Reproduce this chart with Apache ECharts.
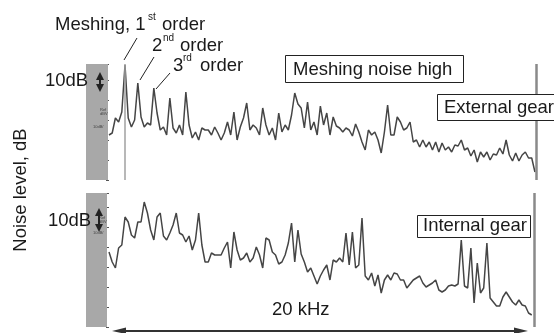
<!DOCTYPE html>
<html><head><meta charset="utf-8">
<script src="https://cdn.jsdelivr.net/npm/echarts@6/dist/echarts.min.js"></script>
<style>html,body{margin:0;padding:0;background:#fff}#c{width:554px;height:333px}</style>
</head><body><div id="c"></div>
<script>
// ---- data ----
const binKHz = 0.15;          // frequency spacing of spectrum bins
const spanKHz = 20;           // analysed band, 0 - 20 kHz
const meshFreqKHz = 0.75;     // 1st order meshing frequency

// External gear spectrum, relative level in dB
const externalLevel = [22.5,23.5,31,29,34,57.5,31,26.5,30,48.5,
31.5,26.5,28.5,27.5,46,33.5,25,26.5,22.5,41,
26,23.5,27.5,22.5,44,27.5,21,24,20,26,
25,25,22.5,26.5,23.5,20,23.5,29,22.5,34,
20,26.5,31,38.5,25,27.5,26,22.5,36,27.5,
22.5,26,20,33.5,24,27.5,25,32.5,43.5,38,
36,26,39,25,29,22.5,37,27.5,33.5,22.5,
31.5,27,26,24,26,25,22,28,24,19,
15,25,22.5,24,20,13.5,24,37.5,22.5,22.5,
31.5,29,25,26,29,19,20,16.5,20,16.5,
19,15,19,14,18.5,15,16.5,14,17.5,17,
20,15,16,12,15,9,14,11.5,14,10,
13,12.5,16,13,20,12.5,9.5,13.5,9.5,12.5,
14,11,11,4];

// Internal gear spectrum, relative level in dB
const internalLevel = [37.5,32.5,29.5,39.5,41,55,52.5,46,44.5,52.5,
52.5,62.5,57,48.5,43.5,55,57,45.5,43.5,47,
51,57,47,46,42.5,45.5,38.5,43.5,57,41,
32.5,32.5,37,36,36,36,39.5,42.5,29.5,47.5,
38.5,33.5,34.5,37,32.5,34.5,40,36,29.5,44.5,
43.5,37.5,36,31.5,32.5,36,42,52,32.5,48.5,
36.5,32.5,27.5,29.5,25.5,21.5,25.5,28.5,31,23.5,
33.5,32.5,34.5,32.5,47,31,47.5,29.5,31,54.5,
25.5,23.5,27,20.5,26,17,23.5,26,23.5,27,
26.5,23.5,23.5,19.5,21.5,23.5,24.5,25.5,22,20,
21,22,23.5,18.5,17.5,18.5,20.5,21,20.5,21.5,
43.5,20.5,19.5,39.5,12,32,17,19.5,42,14.5,
12.5,10.5,10.5,15,17.5,15,12.5,11,13.5,11,
10.5,7,6];

// ---- chart ----
const FONT = "'Liberation Sans', Arial, sans-serif";
const FS = 18.5;
const toPairs = arr => arr.map((v, i) => [Math.round(i * binKHz * 100) / 100, v]);

const chart = echarts.init(document.getElementById('c'), null, {renderer: 'canvas'});

function xAx(gi) {
  return {gridIndex: gi, type: 'value', min: 0, max: spanKHz, show: false};
}
function yAx(gi, max) {
  return {gridIndex: gi, type: 'value', min: 0, max: max, interval: 10,
    axisLine: {show: false}, splitLine: {show: false}, axisLabel: {show: false},
    axisTick: {show: true, inside: false, length: 3, lineStyle: {color: '#555', width: 1}}};
}
const lineStyle = {color: '#454545', width: 1.5};

function txt(text, x, y, size, extra) {
  return Object.assign({type: 'text', z: 100, x: x, y: y,
    style: {text: text, font: size + 'px ' + FONT, fill: '#1a1a1a',
      textAlign: 'left', textVerticalAlign: 'middle'}}, extra || {});
}
function tiny(text, x, y) {
  return {type: 'text', z: 100, x: x, y: y,
    style: {text: text, font: '4px ' + FONT, fill: '#444', textAlign: 'left', textVerticalAlign: 'middle'}};
}
function box(x, y, w, h) {
  return {type: 'rect', z: 99, shape: {x: x, y: y, width: w, height: h},
    style: {fill: '#fff', stroke: '#222', lineWidth: 1}};
}
function seg(x1, y1, x2, y2, w, c) {
  return {type: 'line', z: 100, shape: {x1: x1, y1: y1, x2: x2, y2: y2},
    style: {stroke: c || '#222', lineWidth: w || 1}};
}
function tri(points, c) {
  return {type: 'polygon', z: 100, shape: {points: points}, style: {fill: c || '#222'}};
}
function dbArrow(x, y1, y2) {
  return [
    seg(x, y1 + 5, x, y2 - 5, 2),
    tri([[x - 4, y1 + 8], [x, y1], [x + 4, y1 + 8]]),
    tri([[x - 4, y2 - 8], [x, y2], [x + 4, y2 - 8]])
  ];
}

const graphics = [
  // instrument scale strips
  {type: 'rect', z: 1, shape: {x: 86, y: 64, width: 22, height: 116}, style: {fill: '#a8a8a8'}},
  {type: 'rect', z: 1, shape: {x: 86, y: 193, width: 21, height: 134}, style: {fill: '#a8a8a8'}},
  tiny('Ref\ndBV', 100, 112),
  tiny('10dB/', 93, 127),
  tiny('Ref\ndBV', 99, 220),
  tiny('10dB/', 93, 233),

  // axis title
  txt('Noise level, dB', 21, 190, FS, {rotation: Math.PI / 2,
    style: {text: 'Noise level, dB', font: FS + 'px ' + FONT, fill: '#1a1a1a', textAlign: 'center', textVerticalAlign: 'middle'}}),

  // order annotations
  txt('Meshing, 1', 55, 25, FS),
  txt('st', 148, 17, 10),
  txt('order', 162, 25, FS),
  txt('2', 152, 46, FS),
  txt('nd', 163, 38, 10),
  txt('order', 180, 46, FS),
  txt('3', 173, 66, FS),
  txt('rd', 183, 58, 10),
  txt('order', 200, 66, FS),
  seg(137, 38, 124, 60, 1),
  seg(154, 57, 140, 80, 1),
  seg(170, 73, 156, 89, 1),

  // 10 dB scale markers
  txt('10dB', 45, 81, FS),
  ...dbArrow(100, 72, 92),
  txt('10dB', 48, 221, FS),
  ...dbArrow(99, 208, 232),

  // boxes
  box(285.5, 55.5, 178, 27),
  txt('Meshing noise high', 293, 69.5, FS),
  box(437.5, 94.5, 130, 26),
  txt('External gear', 444, 108, FS),
  box(417.5, 215.5, 113, 22),
  txt('Internal gear', 423, 226, FS),

  // frequency span arrow
  txt('20 kHz', 272, 310, FS),
  seg(120, 331, 520, 331, 2, '#333'),
  tri([[112, 331], [126, 327.5], [126, 334]], '#333'),
  tri([[528, 331], [514, 327.5], [514, 334]], '#333')
];

const option = {
  animation: false,
  backgroundColor: '#fff',
  grid: [
    {left: 109, right: 18, top: 64, height: 116},
    {left: 109, right: 18, top: 193, height: 134}
  ],
  xAxis: [xAx(0), xAx(1)],
  yAxis: [yAx(0, 58), yAx(1, 67)],
  series: [
    {type: 'line', name: 'External gear', xAxisIndex: 0, yAxisIndex: 0, data: toPairs(externalLevel),
      showSymbol: false, lineStyle: lineStyle, z: 3,
      markLine: {silent: true, symbol: 'none', label: {show: false},
        data: [
          {xAxis: meshFreqKHz, lineStyle: {color: '#a0a0a0', width: 1.5, type: 'solid'}},
          {xAxis: spanKHz, lineStyle: {color: '#8a8a8a', width: 2.5, type: 'solid'}}
        ]}},
    {type: 'line', name: 'Internal gear', xAxisIndex: 1, yAxisIndex: 1, data: toPairs(internalLevel),
      showSymbol: false, lineStyle: lineStyle, z: 3,
      markLine: {silent: true, symbol: 'none', label: {show: false},
        data: [
          {xAxis: 19.9, lineStyle: {color: '#8a8a8a', width: 2.5, type: 'solid'}}
        ]}}
  ],
  graphic: {elements: graphics}
};
chart.setOption(option);
</script>
</body></html>
